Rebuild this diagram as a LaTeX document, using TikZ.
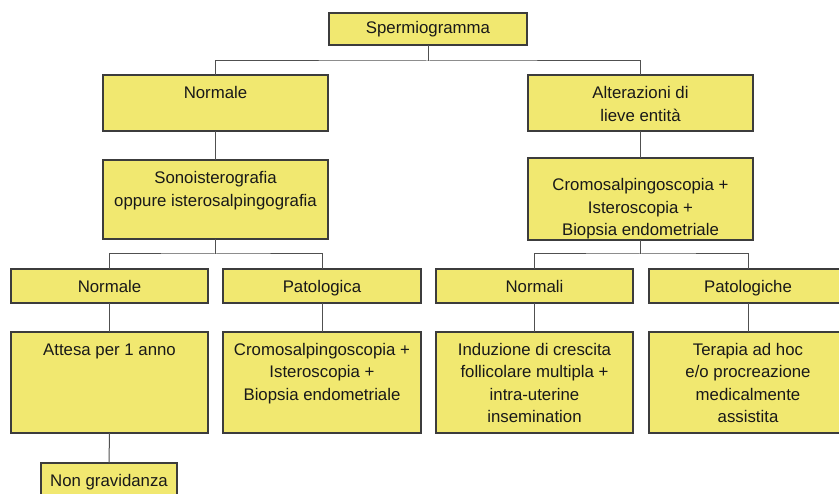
\documentclass[tikz,border=0pt]{standalone}
\usepackage{fontspec}
\setmainfont{Liberation Sans}
\definecolor{boxfill}{RGB}{241,232,112}
\definecolor{boxline}{RGB}{60,60,60}
\definecolor{conline}{RGB}{80,80,80}
\definecolor{txtcol}{RGB}{25,25,25}
\newcommand{\ml}[1]{\begin{tabular}[t]{@{}c@{}}#1\end{tabular}}
\tikzset{
  box/.style={draw=boxline, fill=boxfill, line width=1.1pt, rectangle, inner sep=0pt, outer sep=0pt, anchor=north west},
  txt/.style={inner sep=0pt, outer sep=0pt, anchor=base, text=txtcol, font=\fontsize{16.8}{22.4}\selectfont},
  con/.style={draw=conline, line width=1pt}
}
\begin{document}
\begin{tikzpicture}[x=1pt,y=-1pt]
\path[use as bounding box] (0,0) rectangle (839,494);
\clip (0,0) rectangle (839,494);
% boxes
\node[box, minimum width=198pt, minimum height=32pt] (sp) at (329,13) {};
\node[box, minimum width=225pt, minimum height=56pt] (n2) at (103,75) {};
\node[box, minimum width=225pt, minimum height=56pt] (alt) at (528,75) {};
\node[box, minimum width=225pt, minimum height=79pt] (sono) at (103,160) {};
\node[box, minimum width=225pt, minimum height=82pt] (cromoR) at (528,158) {};
\node[box, minimum width=197pt, minimum height=34pt] (lnorm) at (11,269) {};
\node[box, minimum width=198pt, minimum height=34pt] (pat) at (223,269) {};
\node[box, minimum width=197pt, minimum height=34pt] (norm2) at (436,269) {};
\node[box, minimum width=198pt, minimum height=34pt] (patol) at (649,269) {};
\node[box, minimum width=197pt, minimum height=101pt] (attesa) at (11,332) {};
\node[box, minimum width=198pt, minimum height=101pt] (cromoL) at (223,332) {};
\node[box, minimum width=197pt, minimum height=101pt] (ind) at (436,332) {};
\node[box, minimum width=198pt, minimum height=101pt] (ter) at (649,332) {};
\node[box, minimum width=136pt, minimum height=42pt] (ng) at (41,463) {};
% texts
\node[txt] (tsp) at (428,34) {Spermiogramma};
\node[txt] (tn2) at (215.5,98.5) {Normale};
\node[txt] (talt) at (640.5,99) {\ml{Alterazioni di\\lieve entità}};
\node[txt] (tsono) at (215.5,184) {\ml{Sonoisterografia\\oppure isterosalpingografia}};
\node[txt] (tcromoR) at (640.5,191) {\ml{Cromosalpingoscopia +\\Isteroscopia +\\Biopsia endometriale}};
\node[txt] (tlnorm) at (109.5,292.5) {Normale};
\node[txt] (tpat) at (322,292.5) {Patologica};
\node[txt] (tnorm2) at (534.5,292.5) {Normali};
\node[txt] (tpatol) at (748,292.5) {Patologiche};
\node[txt] (tattesa) at (109.5,355.5) {Attesa per 1 anno};
\node[txt] (tcromoL) at (322,355.5) {\ml{Cromosalpingoscopia +\\Isteroscopia +\\Biopsia endometriale}};
\node[txt] (tind) at (534.5,355.5) {\ml{Induzione di crescita\\follicolare multipla +\\intra-uterine\\insemination}};
\node[txt] (tter) at (748,355.5) {\ml{Terapia ad hoc\\e/o procreazione\\medicalmente\\assistita}};
\node[txt] (tng) at (109,486) {Non gravidanza};
% junctions
\coordinate (j1) at (428,61);
\coordinate (j2) at (215.5,254);
\coordinate (j3) at (640.5,254);
% connectors
\draw[con] (sp.south) -- (j1);
\draw[con] (n2.north) |- (j1) -| (alt.north);
\draw[con] (n2.south) -- (sono.north);
\draw[con] (alt.south) -- (cromoR.north);
\draw[con] (sono.south) -- (j2);
\draw[con] (lnorm.north) |- (j2) -| (pat.north);
\draw[con] (cromoR.south) -- (j3);
\draw[con] (norm2.north) |- (j3) -| (patol.north);
\draw[con] (lnorm.south) -- (attesa.north);
\draw[con] (pat.south) -- (cromoL.north);
\draw[con] (norm2.south) -- (ind.north);
\draw[con] (patol.south) -- (ter.north);
\draw[con] (attesa.south) -- (ng.north);
\end{tikzpicture}
\end{document}
